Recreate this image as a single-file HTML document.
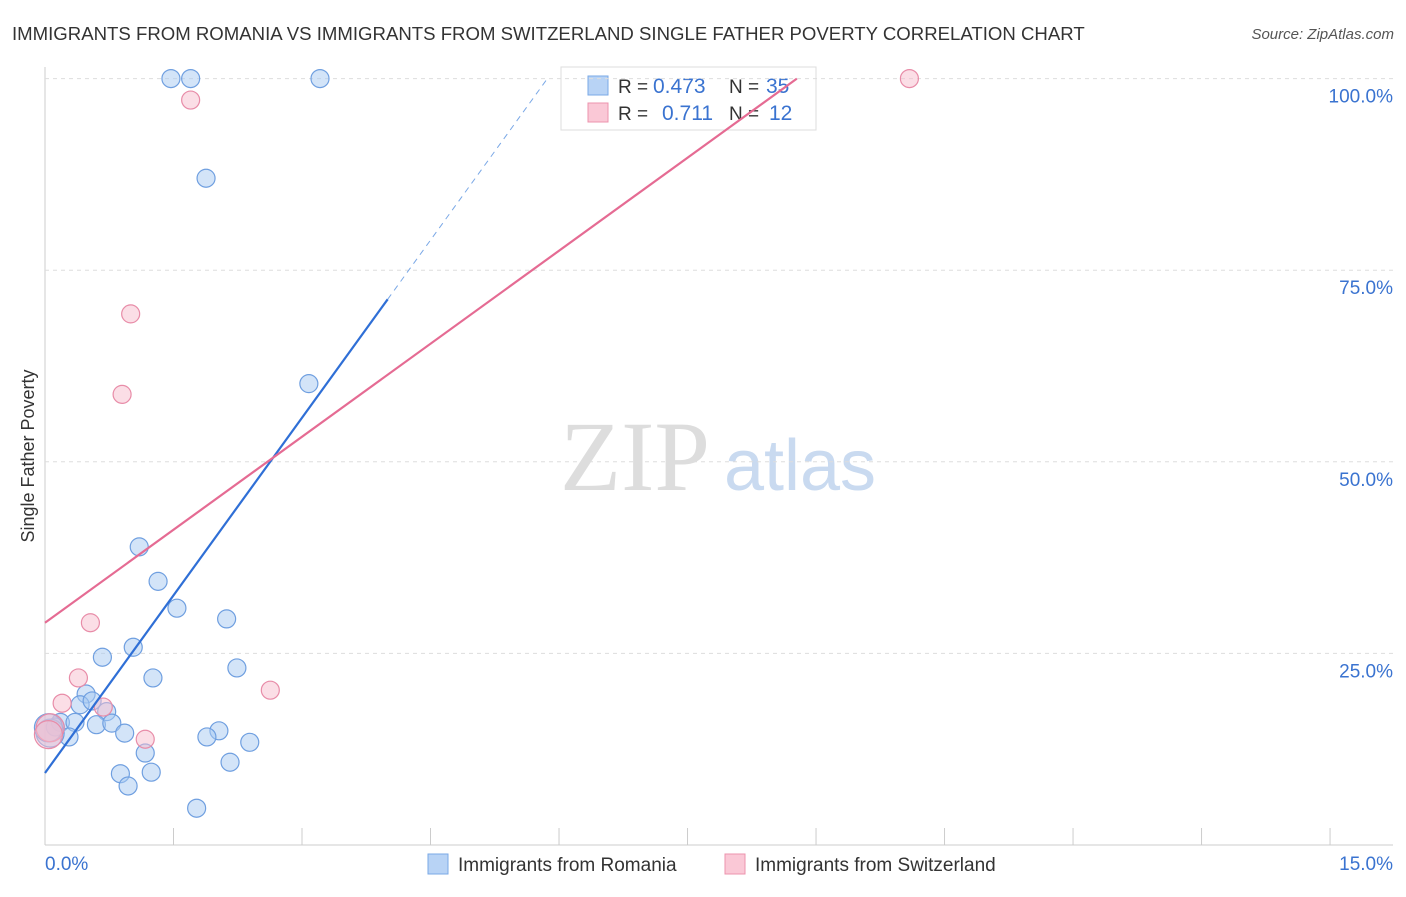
<!DOCTYPE html>
<html><head><meta charset="utf-8"><style>
body{margin:0;background:#fff;font-family:"Liberation Sans",sans-serif;}
</style></head><body>
<svg id="chart" width="1406" height="892" xmlns="http://www.w3.org/2000/svg" font-family="Liberation Sans, sans-serif">
<text x="12" y="40" font-size="18.6" fill="#333">IMMIGRANTS FROM ROMANIA VS IMMIGRANTS FROM SWITZERLAND SINGLE FATHER POVERTY CORRELATION CHART</text>
<text x="1394" y="39" font-size="15" fill="#555" text-anchor="end" font-style="italic">Source: ZipAtlas.com</text>
<text x="34" y="456" font-size="18" fill="#333" text-anchor="middle" transform="rotate(-90 34 456)">Single Father Poverty</text>
<g><text x="635" y="490" font-size="100" fill="#ddd" text-anchor="middle" style="font-family:'Liberation Serif',serif">ZIP</text><text x="800" y="490" font-size="72" fill="#c9daf0" text-anchor="middle">atlas</text></g>
<g>
<rect x="561" y="67" width="255" height="63" fill="#fff" stroke="#ddd"/>
<rect x="588" y="76" width="20" height="19" fill="#b8d3f5" stroke="#7aa8e6"/>
<text x="618" y="93" font-size="19" fill="#333">R =</text><text x="653" y="93" font-size="21" fill="#3a73d0">0.473</text>
<text x="729" y="93" font-size="19" fill="#333">N =</text><text x="766" y="93" font-size="21" fill="#3a73d0">35</text>
<rect x="588" y="103" width="20" height="19" fill="#fac8d6" stroke="#ec93ad"/>
<text x="618" y="120" font-size="19" fill="#333">R =</text><text x="662" y="120" font-size="21" fill="#3a73d0">0.711</text>
<text x="729" y="120" font-size="19" fill="#333">N =</text><text x="769" y="120" font-size="21" fill="#3a73d0">12</text>
</g>
<g id="grid"></g><g id="marks"></g>
<g>
<rect x="428" y="854" width="20" height="20" fill="#b8d3f5" stroke="#7aa8e6"/>
<text x="458" y="871" font-size="19" fill="#333">Immigrants from Romania</text>
<rect x="725" y="854" width="20" height="20" fill="#fac8d6" stroke="#ec93ad"/>
<text x="755" y="871" font-size="19" fill="#333">Immigrants from Switzerland</text>
</g>
</svg>
<script>
const xTicks=[0,1.5,3,4.5,6,7.5,9,10.5,12,13.5,15];
const yTicks=[25,50,75,100];
const yTickLabels=["25.0%","50.0%","75.0%","100.0%"];
const romaniaX=[1.47,1.70,3.21,1.88,3.08,1.10,1.32,1.54,2.12,1.03,0.67,2.24,1.26,0.48,0.41,0.55,0.72,0.18,0.35,0.60,0.78,0.12,0.93,2.03,1.89,2.39,0.28,1.17,2.16,1.24,0.88,0.97,1.77,0.06,0.04];
const romaniaY=[100,100,100,87.0,60.2,38.9,34.4,30.9,29.5,25.8,24.5,23.1,21.8,19.7,18.3,18.8,17.4,16.0,16.0,15.7,15.9,15.4,14.6,14.9,14.1,13.4,14.1,12.0,10.8,9.5,9.3,7.7,4.8,14.6,15.3];
const swissX=[1.70,10.09,1.00,0.90,0.53,0.39,0.20,0.68,2.63,1.17,0.06,0.04];
const swissY=[97.2,100,69.3,58.8,29.0,21.8,18.5,18.0,20.2,13.8,15.3,14.4];
const romaniaTrend=[9.4,15.45];
const swissTrend=[29.0,8.09];
const NS="http://www.w3.org/2000/svg";
const xs=v=>45+v*85.67, ys=v=>845-v*7.664;
function mk(t,a,p){const e=document.createElementNS(NS,t);for(const k in a)e.setAttribute(k,a[k]);p.appendChild(e);return e;}
const grid=document.getElementById('grid'),marks=document.getElementById('marks');
let ax=mk('line',{x1:45,y1:67,x2:45,y2:845,stroke:'#ccc'},grid);


let bx=mk('line',{x1:45,y1:845,x2:1393,y2:845,stroke:'#ccc'},grid);


xTicks.forEach(v=>{let t=mk('line',{x1:xs(v),y1:828,x2:xs(v),y2:845,stroke:'#ccc'},grid);

});
yTicks.forEach((v,i)=>{let g=mk('line',{x1:45,y1:ys(v),x2:1393,y2:ys(v),stroke:'#ddd','stroke-dasharray':'4,4'},grid);


let t=mk('text',{x:1393,y:ys(v)+24,'font-size':19,fill:'#3a73d0','text-anchor':'end'},grid);t.textContent=yTickLabels[i];

});
let l0=mk('text',{x:45,y:870,'font-size':19,fill:'#3a73d0'},grid);l0.textContent='0.0%';


let l1=mk('text',{x:1393,y:870,'font-size':19,fill:'#3a73d0','text-anchor':'end'},grid);l1.textContent='15.0%';


function dot(x,y,f,s,name,r){let c=mk('circle',{cx:xs(x),cy:ys(y),r:r,fill:f,stroke:s,'stroke-width':1.2},marks);

}
romaniaX.forEach((x,i)=>dot(x,romaniaY[i],'rgba(168,201,242,0.5)','#6f9fe0','romania-point',i>=33?14:9));
swissX.forEach((x,i)=>dot(x,swissY[i],'rgba(248,190,206,0.5)','#e88ca8','switzerland-point',i>=10?14:9));
const bEnd=4.0, bMax=(100-romaniaTrend[0])/romaniaTrend[1];
let tb=mk('line',{x1:xs(0),y1:ys(romaniaTrend[0]),x2:xs(bEnd),y2:ys(romaniaTrend[0]+romaniaTrend[1]*bEnd),stroke:'#2f6fd6','stroke-width':2.2},marks);


let td=mk('line',{x1:xs(bEnd),y1:ys(romaniaTrend[0]+romaniaTrend[1]*bEnd),x2:xs(bMax),y2:ys(100),stroke:'#7aa8e6','stroke-width':1,'stroke-dasharray':'6,5'},marks);


const pMax=(100-swissTrend[0])/swissTrend[1];
let tp=mk('line',{x1:xs(0),y1:ys(swissTrend[0]),x2:xs(pMax),y2:ys(100),stroke:'#e56b93','stroke-width':2.2},marks);


</script>
</body></html>
